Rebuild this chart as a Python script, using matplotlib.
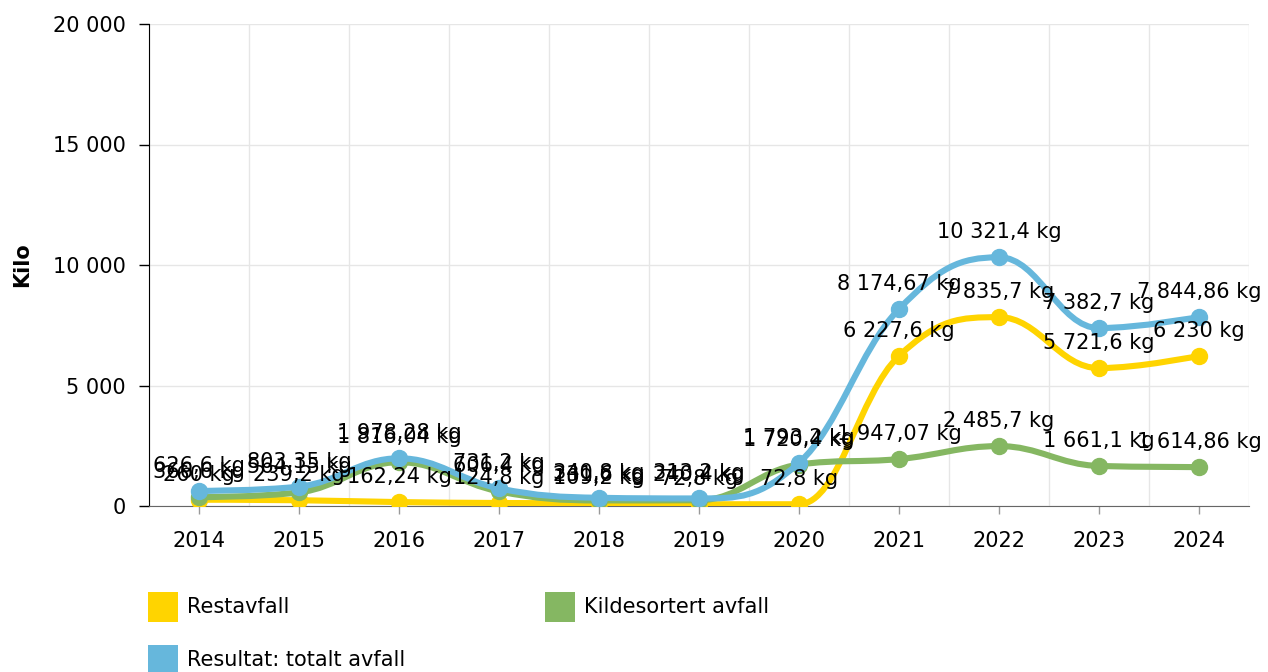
import matplotlib
matplotlib.use("Agg")
import matplotlib.pyplot as plt
from matplotlib.path import Path
from matplotlib.patches import PathPatch, Rectangle
from matplotlib.ticker import FuncFormatter

# data
years = ["2014", "2015", "2016", "2017", "2018", "2019", "2020", "2021", "2022", "2023", "2024"]
restavfall = [260, 239.2, 162.24, 124.8, 109.2, 72.8, 72.8, 6227.6, 7835.7, 5721.6, 6230]
kildesortert = [366.6, 564.15, 1816.04, 606.4, 231.6, 240.4, 1720.4, 1947.07, 2485.7, 1661.1, 1614.86]
totalt = [626.6, 803.35, 1978.28, 731.2, 340.8, 313.2, 1793.2, 8174.67, 10321.4, 7382.7, 7844.86]
series_names = ["Restavfall", "Kildesortert avfall", "Resultat: totalt avfall"]
colors = ["#ffd400", "#85b762", "#66b7dc"]

plt.rcParams["font.family"] = ["DejaVu Sans"]
FS = 15


def fmt_num(v, dec=2):
    s = f"{v:,.{dec}f}"
    if "." in s:
        s = s.rstrip("0").rstrip(".")
    return s.replace(",", " ").replace(".", ",")


def spline_path(xs, ys, smoothing=1.5):
    # highcharts style spline
    denom = smoothing + 1
    n = len(xs)
    verts = [(xs[0], ys[0])]
    codes = [Path.MOVETO]
    right = [None] * n
    for i in range(1, n):
        px, py = xs[i], ys[i]
        lcx, lcy = px, py
        if i < n - 1:
            lx, ly = xs[i - 1], ys[i - 1]
            nx, ny = xs[i + 1], ys[i + 1]
            lcx = (smoothing * px + lx) / denom
            lcy = (smoothing * py + ly) / denom
            rcx = (smoothing * px + nx) / denom
            rcy = (smoothing * py + ny) / denom
            corr = 0
            if rcx != lcx:
                corr = (rcy - lcy) * (rcx - px) / (rcx - lcx) + py - rcy
            lcy += corr
            rcy += corr
            if lcy > ly and lcy > py:
                lcy = max(ly, py)
                rcy = 2 * py - lcy
            elif lcy < ly and lcy < py:
                lcy = min(ly, py)
                rcy = 2 * py - lcy
            if rcy > ny and rcy > py:
                rcy = max(ny, py)
                lcy = 2 * py - rcy
            elif rcy < ny and rcy < py:
                rcy = min(ny, py)
                lcy = 2 * py - rcy
            right[i] = (rcx, rcy)
        prev = right[i - 1] if right[i - 1] is not None else (xs[i - 1], ys[i - 1])
        verts += [prev, (lcx, lcy), (px, py)]
        codes += [Path.CURVE4] * 3
    return Path(verts, codes)


fig = plt.figure(figsize=(12.68, 6.72), dpi=100)
W, H = 1268, 672
ax = fig.add_axes([149 / W, (H - 506) / H, 1100 / W, 482 / H])

x = list(range(len(years)))
all_series = [restavfall, kildesortert, totalt]

for k, (vals, c) in enumerate(zip(all_series, colors)):
    p = spline_path(x, vals)
    ax.add_patch(PathPatch(p, facecolor="none", edgecolor=c, lw=4.4,
                           capstyle="round", joinstyle="round", zorder=3 + k))
    ax.plot(x, vals, "o", color=c, ms=11.5, mec=c, zorder=3 + k)

for vals in all_series:
    for xi, v in zip(x, vals):
        ax.annotate(fmt_num(v) + " kg", (xi, v), xytext=(0, 19), textcoords="offset pixels",
                    ha="center", va="baseline", fontsize=FS, color="#000000", zorder=10)

ax.set_xlim(-0.5, len(years) - 0.5)
ax.set_ylim(0, 20000)
ax.set_yticks([0, 5000, 10000, 15000, 20000])
ax.yaxis.set_major_formatter(FuncFormatter(lambda v, p: fmt_num(v, 0)))
ax.set_xticks(x)
ax.set_xticklabels(years)
ax.set_xticks([i + 0.5 for i in range(-1, len(years))], minor=True)

ax.grid(False)
ax.grid(True, which="minor", axis="x", color="#e6e6e6", lw=1)
ax.grid(True, which="major", axis="y", color="#e6e6e6", lw=1)
ax.set_axisbelow(True)
ax.tick_params(axis="x", which="minor", length=0)
ax.tick_params(axis="x", which="major", length=6, width=1, color="#999999",
               labelsize=FS, pad=12)
ax.tick_params(axis="y", length=7, width=1, color="#000000", labelsize=FS, pad=10)

for s in ["top", "right"]:
    ax.spines[s].set_visible(False)
ax.spines["left"].set_color("#000000")
ax.spines["bottom"].set_color("#666666")

fig.text(22 / W, 1 - 265 / H, "Kilo", rotation=90, fontsize=FS, fontweight="bold",
         ha="center", va="center")

# legend
legend_pos = [(148, 592), (545, 592), (148, 645)]
for name, c, (lx, ly) in zip(series_names, colors, legend_pos):
    fig.add_artist(Rectangle((lx / W, 1 - (ly + 30) / H), 30 / W, 30 / H,
                             transform=fig.transFigure, facecolor=c, edgecolor="none"))
    fig.text((lx + 39) / W, 1 - (ly + 15) / H, name, fontsize=FS, ha="left", va="center")

fig.savefig("out.png", dpi=100)
